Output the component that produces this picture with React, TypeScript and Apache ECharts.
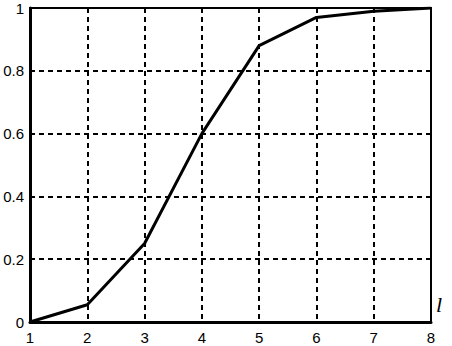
import React, { useEffect, useRef } from "react";
import * as echarts from "echarts";

const xValues = [1, 2, 3, 4, 5, 6, 7, 8];
const yValues = [0, 0.055, 0.25, 0.6, 0.88, 0.97, 0.99, 1];
const xTicks = [1, 2, 3, 4, 5, 6, 7, 8];
const yTicks = [0, 0.2, 0.4, 0.6, 0.8, 1];
const axisName = "l";

export default function App() {
  const ref = useRef<HTMLDivElement>(null);
  useEffect(() => {
    if (!ref.current) return;
    const chart = echarts.init(ref.current, null, { renderer: "svg" });
    const labelStyle = {
      color: "#000",
      fontFamily: "Liberation Sans, Arial, sans-serif",
      fontSize: 15,
    };
    chart.setOption({
      animation: false,
      backgroundColor: "#fff",
      grid: {
        left: 30,
        right: 21,
        top: 8,
        bottom: 24,
        show: true,
        borderColor: "#000",
        borderWidth: 2,
      },
      xAxis: {
        type: "value",
        min: xTicks[0],
        max: xTicks[xTicks.length - 1],
        interval: 1,
        axisLine: { show: true, lineStyle: { color: "#000", width: 3 } },
        axisTick: { show: false },
        axisLabel: {
          ...labelStyle,
          margin: 8,
          formatter: (v: number) => (xTicks.includes(v) ? String(v) : ""),
        },
        splitLine: {
          show: true,
          lineStyle: { color: "#000", width: 2, type: [5, 4] },
        },
      },
      yAxis: {
        type: "value",
        min: 0,
        max: 1,
        interval: 0.2,
        axisLine: { show: true, lineStyle: { color: "#000", width: 3 } },
        axisTick: { show: false },
        axisLabel: {
          ...labelStyle,
          margin: 6,
          formatter: (v: number) => {
            const t = yTicks.find((y) => Math.abs(y - v) < 1e-9);
            return t === undefined ? "" : String(t);
          },
        },
        splitLine: {
          show: true,
          lineStyle: { color: "#000", width: 2, type: [5, 4] },
        },
      },
      graphic: [
        {
          type: "text",
          left: 436,
          top: 293,
          style: {
            text: axisName,
            fill: "#000",
            font: "italic 22px 'Liberation Serif', 'DejaVu Serif', serif",
          },
        },
      ],
      series: [
        {
          type: "line",
          data: xValues.map((x, i) => [x, yValues[i]]),
          symbol: "none",
          lineStyle: { color: "#000", width: 3 },
          z: 5,
        },
      ],
    });
    return () => chart.dispose();
  }, []);
  return (
    <div
      ref={ref}
      style={{ position: "fixed", left: 0, top: 0, width: 452, height: 346 }}
    />
  );
}
